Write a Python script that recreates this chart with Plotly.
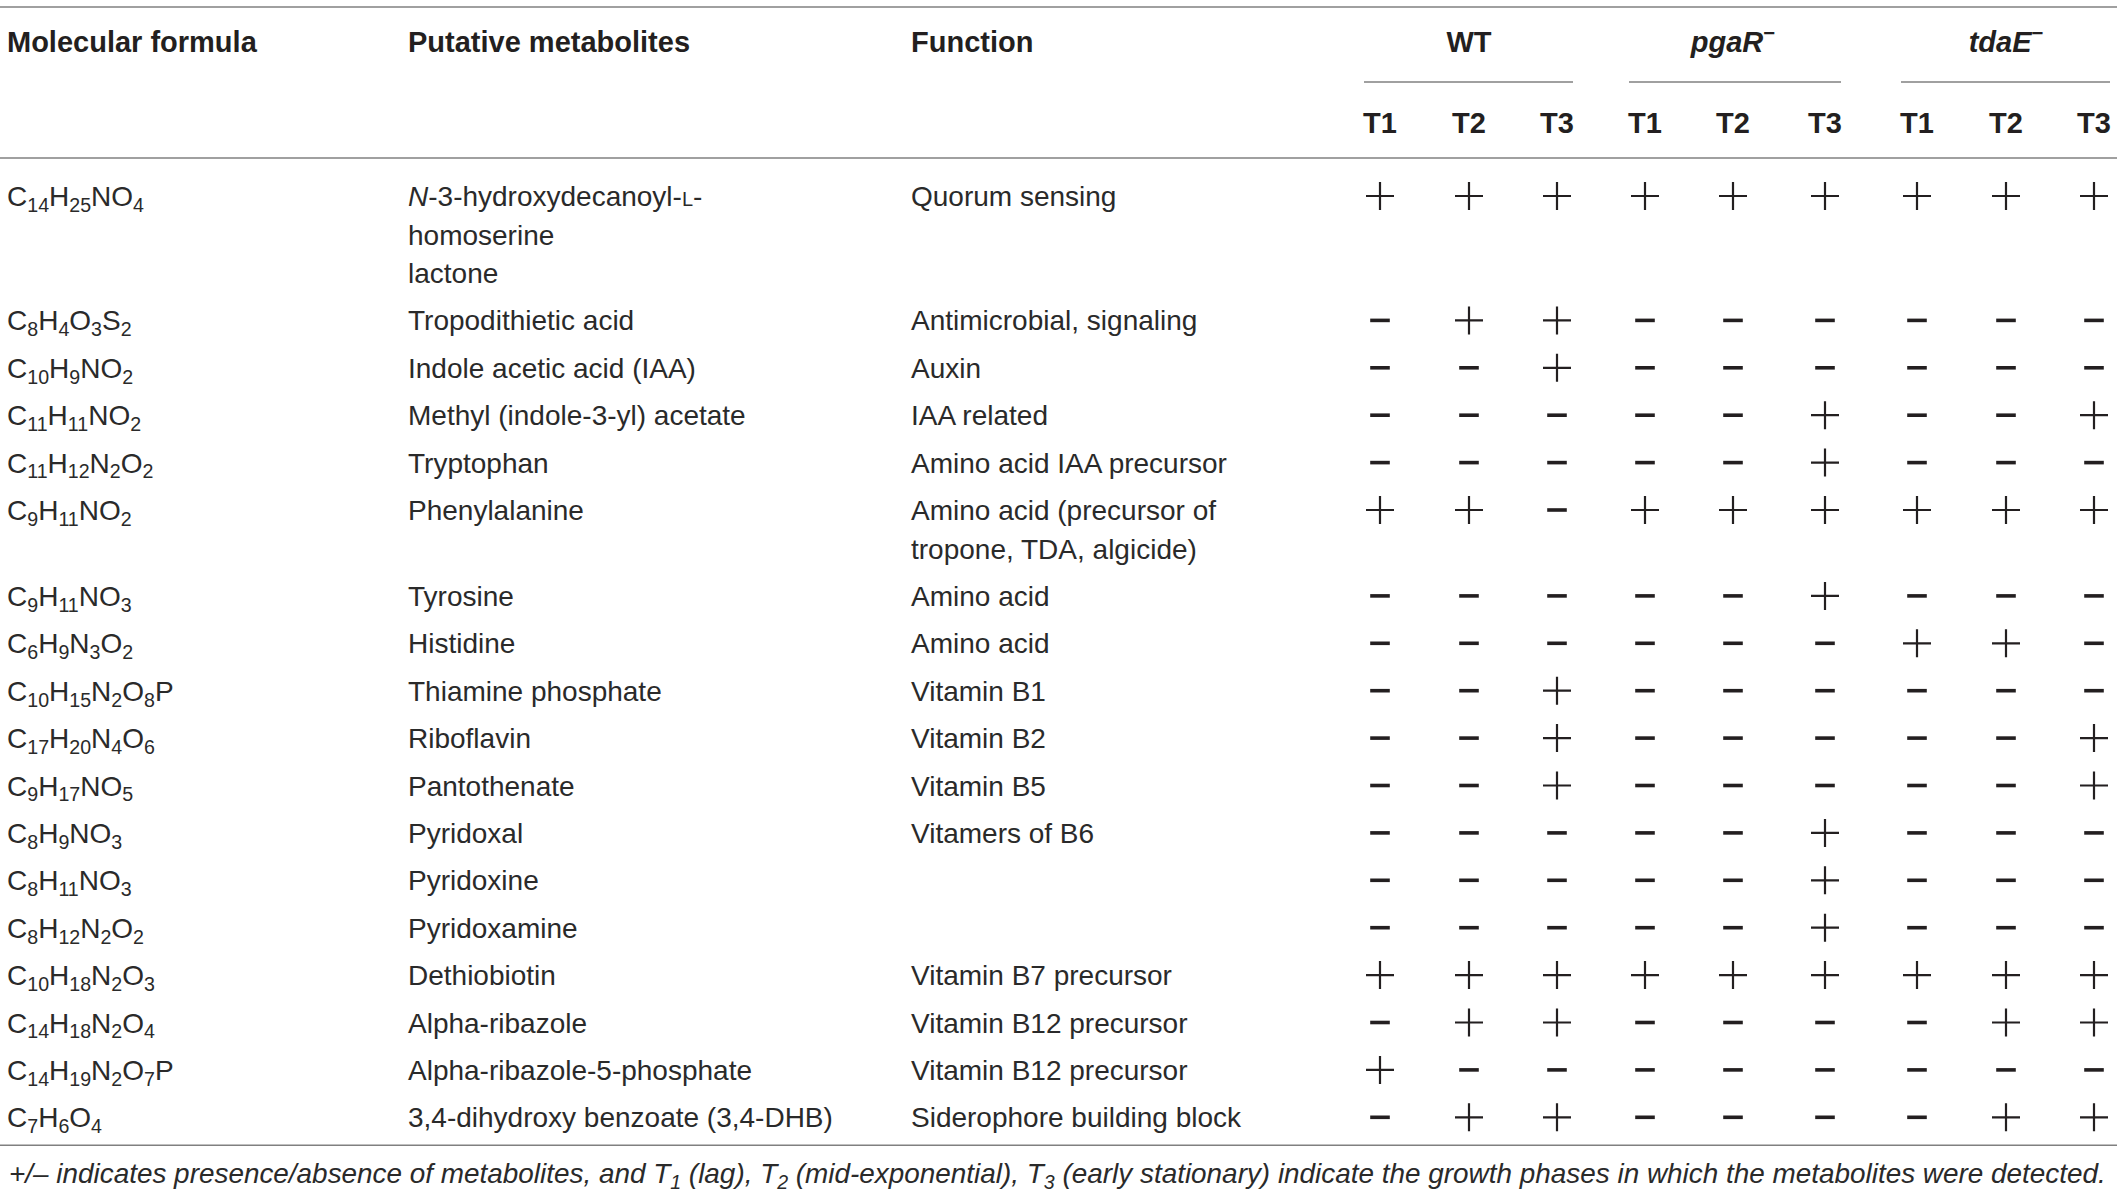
import re
import plotly.graph_objects as go

# table content
formulas = ["C14H25NO4", "C8H4O3S2", "C10H9NO2", "C11H11NO2", "C11H12N2O2", "C9H11NO2",
            "C9H11NO3", "C6H9N3O2", "C10H15N2O8P", "C17H20N4O6", "C9H17NO5", "C8H9NO3",
            "C8H11NO3", "C8H12N2O2", "C10H18N2O3", "C14H18N2O4", "C14H19N2O7P", "C7H6O4"]

metabolites = ["N-3-hydroxydecanoyl-L-\nhomoserine\nlactone", "Tropodithietic acid",
               "Indole acetic acid (IAA)", "Methyl (indole-3-yl) acetate", "Tryptophan",
               "Phenylalanine", "Tyrosine", "Histidine", "Thiamine phosphate", "Riboflavin",
               "Pantothenate", "Pyridoxal", "Pyridoxine", "Pyridoxamine", "Dethiobiotin",
               "Alpha-ribazole", "Alpha-ribazole-5-phosphate", "3,4-dihydroxy benzoate (3,4-DHB)"]

functions = ["Quorum sensing", "Antimicrobial, signaling", "Auxin", "IAA related",
             "Amino acid IAA precursor", "Amino acid (precursor of\ntropone, TDA, algicide)",
             "Amino acid", "Amino acid", "Vitamin B1", "Vitamin B2", "Vitamin B5",
             "Vitamers of B6", "", "", "Vitamin B7 precursor", "Vitamin B12 precursor",
             "Vitamin B12 precursor", "Siderophore building block"]

# presence/absence at T1, T2, T3
wt   = ["+++", "-++", "--+", "---", "---", "++-", "---", "---", "--+",
        "--+", "--+", "---", "---", "---", "+++", "-++", "+--", "-++"]
pgaR = ["+++", "---", "---", "--+", "--+", "+++", "--+", "---", "---",
        "---", "---", "--+", "--+", "--+", "+++", "---", "---", "---"]
tdaE = ["+++", "---", "---", "--+", "---", "+++", "---", "++-", "---",
        "--+", "--+", "---", "---", "---", "+++", "-++", "---", "-++"]

col_headers = ["Molecular formula", "Putative metabolites", "Function"]
groups = ["WT", "<i>pgaR</i><sup>\u2212</sup>", "<i>tdaE</i><sup>\u2212</sup>"]
phases = ["T1", "T2", "T3"]
footnote = ("+/\u2013 indicates presence/absence of metabolites, and T<sub>1</sub> (lag), "
            "T<sub>2</sub> (mid-exponential), T<sub>3</sub> (early stationary) indicate "
            "the growth phases in which the metabolites were detected.")

# layout constants, in screen pixels
W, H = 2117, 1201
INK = "#231f20"
TXT = "#2a2a2a"
RULE = "#808080"
FONT = "Liberation Sans"
FS = 28
col_left = [7, 408, 911]
mark_x = [1380, 1469, 1557, 1645, 1733, 1825, 1917, 2006, 2094]
Y0, PITCH, LINE = 196, 47.4, 38.5
TDY = 3  # text sits a touch high against the marks


def chem(f):
    return re.sub(r"(\d+)", r"<sub>\1</sub>", f)


def rich(s):
    s = re.sub(r"^N-", "<i>N</i>-", s)
    return s.replace("-L-", "-<span style='font-size:20px'>L</span>-")


columns = [[chem(f) for f in formulas], [rich(m) for m in metabolites], functions]
nlines = [max(len(c[i].split("\n")) for c in columns) for i in range(len(formulas))]

row_y = []
y = Y0
for n in nlines:
    row_y.append(y)
    y += PITCH + (n - 1) * LINE
bottom = row_y[-1] + 28

fig = go.Figure()

# text cells
for c, col in enumerate(columns):
    xs, ys, ts = [], [], []
    for i, cell in enumerate(col):
        for k, line in enumerate(cell.split("\n")):
            if not line:
                continue
            xs.append(col_left[c])
            ys.append(row_y[i] + k * LINE + TDY)
            ts.append(line)
    fig.add_trace(go.Scatter(x=xs, y=ys, text=ts, mode="text", textposition="middle right",
                             textfont=dict(family=FONT, size=FS, color=TXT),
                             cliponaxis=False, hoverinfo="skip"))

# +/- marks
px, py, mx, my = [], [], [], []
for g, strain in enumerate([wt, pgaR, tdaE]):
    for i, v in enumerate(strain):
        for k, s in enumerate(v):
            x = mark_x[3 * g + k]
            if s == "+":
                px.append(x); py.append(row_y[i])
            else:
                mx.append(x); my.append(row_y[i])
fig.add_trace(go.Scatter(x=px, y=py, mode="markers", cliponaxis=False, hoverinfo="skip",
                         marker=dict(symbol="cross-thin", size=20, color=INK,
                                     line=dict(width=2.2, color=INK))))
fig.add_trace(go.Scatter(x=mx, y=my, mode="markers", cliponaxis=False, hoverinfo="skip",
                         marker=dict(symbol="line-ew", size=14, color=INK,
                                     line=dict(width=3.6, color=INK))))

# header
hdr_font = dict(family=FONT, size=FS + 1, color=INK, weight="bold")
fig.add_trace(go.Scatter(x=col_left, y=[45] * 3, text=col_headers, mode="text",
                         textposition="middle right", textfont=hdr_font,
                         cliponaxis=False, hoverinfo="skip"))
fig.add_trace(go.Scatter(x=[mark_x[3 * g + 1] for g in range(3)], y=[45] * 3, text=groups,
                         mode="text", textposition="middle center", textfont=hdr_font,
                         cliponaxis=False, hoverinfo="skip"))
fig.add_trace(go.Scatter(x=mark_x, y=[126] * 9, text=phases * 3, mode="text",
                         textposition="middle center", textfont=hdr_font,
                         cliponaxis=False, hoverinfo="skip"))

# rules
for yy in [7, 158, bottom]:
    fig.add_shape(type="line", xref="x", yref="y", x0=0, x1=W, y0=yy, y1=yy,
                  line=dict(color=RULE, width=1.6))
for g in range(3):
    fig.add_shape(type="line", xref="x", yref="y", x0=mark_x[3 * g] - 16,
                  x1=mark_x[3 * g + 2] + 16, y0=82, y1=82, line=dict(color=RULE, width=1.6))

fig.add_annotation(x=col_left[0], y=bottom + 30, xref="x", yref="y", text="<i>" + footnote + "</i>",
                   showarrow=False, xanchor="left", yanchor="middle",
                   font=dict(family=FONT, size=27.9, color=TXT))

fig.update_layout(width=W, height=H, margin=dict(l=0, r=0, t=0, b=0),
                  paper_bgcolor="white", plot_bgcolor="white", showlegend=False,
                  xaxis=dict(range=[0, W], visible=False, fixedrange=True),
                  yaxis=dict(range=[H, 0], visible=False, fixedrange=True))

# drop the page's default body margin so the figure sits at the window's corner
fig.write_html("out.html", config={"displayModeBar": False},
               post_script="document.body.style.margin='0px';")
